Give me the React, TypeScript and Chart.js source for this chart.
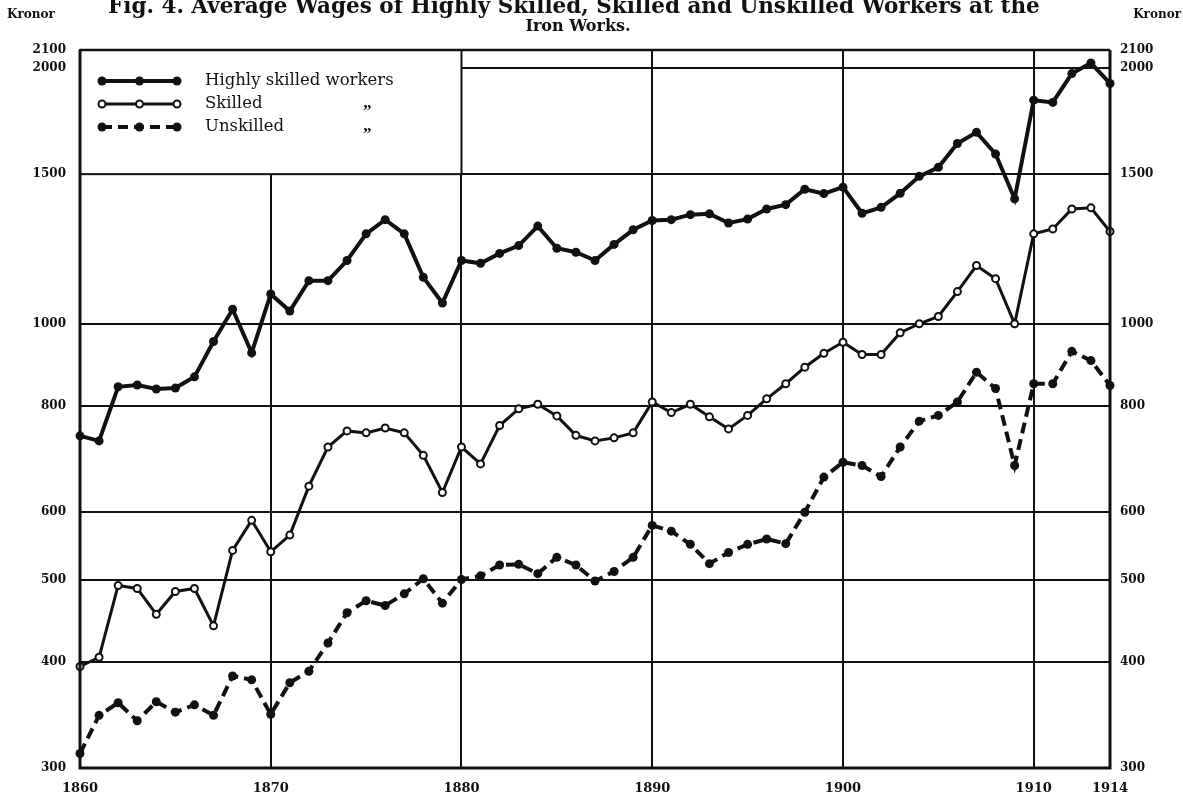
import React, { useEffect, useRef } from "react";
import { Chart, registerables } from "chart.js";

Chart.register(...registerables);

const years = [
  1860, 1861, 1862, 1863, 1864, 1865, 1866, 1867, 1868, 1869,
  1870, 1871, 1872, 1873, 1874, 1875, 1876, 1877, 1878, 1879,
  1880, 1881, 1882, 1883, 1884, 1885, 1886, 1887, 1888, 1889,
  1890, 1891, 1892, 1893, 1894, 1895, 1896, 1897, 1898, 1899,
  1900, 1901, 1902, 1903, 1904, 1905, 1906, 1907, 1908, 1909,
  1910, 1911, 1912, 1913, 1914,
];

const highlySkilled = [
  738, 728, 843, 847, 838, 840, 866, 953, 1040, 924,
  1084, 1035, 1124, 1124, 1187, 1276, 1326, 1276, 1134, 1058,
  1187, 1178, 1210, 1236, 1303, 1227, 1214, 1187, 1240, 1290,
  1323, 1326, 1344, 1347, 1314, 1328, 1365, 1381, 1440, 1423,
  1448, 1349, 1371, 1424, 1491, 1528, 1630, 1680, 1584, 1403,
  1833, 1822, 1970, 2027, 1918,
];

const skilled = [
  395, 405, 492, 488, 455, 484, 488, 441, 541, 587,
  539, 564, 644, 716, 748, 744, 754, 744, 700, 633,
  716, 684, 759, 794, 804, 779, 739, 728, 734, 744,
  809, 786, 804, 777, 752, 780, 816, 850, 889, 923,
  951, 920, 920, 976, 1000, 1020, 1091, 1171, 1130, 1000,
  1276, 1293, 1365, 1369, 1284,
];

const unskilled = [
  312, 346, 358, 341, 359, 349, 356, 346, 385, 381,
  347, 378, 390, 421, 457, 472, 466, 481, 501, 469,
  500, 505, 520, 521, 508, 531, 520, 498, 511, 531,
  579, 570, 550, 522, 538, 550, 558, 551, 600, 660,
  687, 681, 661, 716, 768, 780, 809, 877, 839, 681,
  850, 850, 928, 905, 846,
];

const yTickValues = [300, 400, 500, 600, 800, 1000, 1500, 2000, 2100];
const yTickLabels = ["300", "400", "500", "600", "800", "1000", "1500", "2000", "2100"];
const xTickValues = [1860, 1870, 1880, 1890, 1900, 1910, 1914];
const xTickLabels = ["1860", "1870", "1880", "1890", "1900", "1910", "1914"];
const hGridValues = [400, 500, 600, 800, 1000, 1500, 2000];
const vGridValues = [1870, 1880, 1890, 1900, 1910];
const legendLabels = ["Highly skilled workers", "Skilled", "Unskilled"];
const legendDitto = ["", "\u201D", "\u201D"];
const titleLine1 = "Fig. 4. Average Wages of Highly Skilled, Skilled and Unskilled Workers at the";
const titleLine2 = "Iron Works.";
const unitLabel = "Kronor";

const SERIF = "'Liberation Serif', 'DejaVu Serif', serif";
const WIDE_SERIF = "'DejaVu Serif', 'Liberation Serif', serif";
const INK = "#111";

const toPoints = (vals: number[]) => vals.map((v, i) => ({ x: years[i], y: v }));

const decorPlugin = {
  id: "decor",
  beforeDraw(chart: any) {
    const { ctx, width, height } = chart;
    ctx.save();
    ctx.fillStyle = "#fff";
    ctx.fillRect(0, 0, width, height);
    ctx.restore();
  },
  beforeDatasetsDraw(chart: any) {
    const { ctx, chartArea: a, scales } = chart;
    const x = scales.x;
    const y = scales.y;
    ctx.save();
    ctx.strokeStyle = INK;
    ctx.lineWidth = 2;
    hGridValues.forEach((v) => {
      const py = Math.round(y.getPixelForValue(v));
      ctx.beginPath();
      ctx.moveTo(a.left, py);
      ctx.lineTo(a.right, py);
      ctx.stroke();
    });
    vGridValues.forEach((v) => {
      const px = Math.round(x.getPixelForValue(v));
      ctx.beginPath();
      ctx.moveTo(px, a.top);
      ctx.lineTo(px, a.bottom);
      ctx.stroke();
    });
    // legend box (covers grid in its corner)
    const lx0 = x.getPixelForValue(1860);
    const lx1 = x.getPixelForValue(1880);
    const ly0 = y.getPixelForValue(2100);
    const ly1 = y.getPixelForValue(1500);
    ctx.fillStyle = "#fff";
    ctx.fillRect(lx0, ly0, lx1 - lx0, ly1 - ly0);
    ctx.strokeRect(lx0, ly0, lx1 - lx0, ly1 - ly0);
    ctx.restore();
  },
  afterDraw(chart: any) {
    const { ctx, chartArea: a, width } = chart;
    ctx.save();
    // frame
    ctx.strokeStyle = INK;
    ctx.lineWidth = 2.5;
    ctx.beginPath();
    ctx.moveTo(a.left, a.top);
    ctx.lineTo(a.right, a.top);
    ctx.stroke();
    ctx.lineWidth = 3;
    ctx.beginPath();
    ctx.moveTo(a.left, a.top);
    ctx.lineTo(a.left, a.bottom);
    ctx.lineTo(a.right, a.bottom);
    ctx.lineTo(a.right, a.top);
    ctx.stroke();

    // legend entries
    const rows = [81, 104, 127];
    const sx0 = a.left + 22;
    const sx1 = a.left + 97;
    rows.forEach((ry, i) => {
      ctx.strokeStyle = INK;
      ctx.lineWidth = i === 1 ? 3 : 4;
      ctx.setLineDash(i === 2 ? [10, 6] : []);
      ctx.beginPath();
      ctx.moveTo(sx0, ry);
      ctx.lineTo(sx1, ry);
      ctx.stroke();
      ctx.setLineDash([]);
      [sx0, (sx0 + sx1) / 2, sx1].forEach((cx) => {
        ctx.beginPath();
        if (i === 1) {
          ctx.arc(cx, ry, 3.5, 0, Math.PI * 2);
          ctx.fillStyle = "#fff";
          ctx.fill();
          ctx.lineWidth = 2;
          ctx.stroke();
        } else {
          ctx.arc(cx, ry, 4.5, 0, Math.PI * 2);
          ctx.fillStyle = INK;
          ctx.fill();
        }
      });
      ctx.fillStyle = INK;
      ctx.font = `16.5px ${WIDE_SERIF}`;
      ctx.textBaseline = "middle";
      ctx.textAlign = "left";
      ctx.fillText(legendLabels[i], a.left + 125, ry);
      if (legendDitto[i]) {
        ctx.font = `bold 17px ${SERIF}`;
        ctx.fillText(legendDitto[i], a.left + 283, ry + 8);
      }
    });

    // title: first line sized to span the printed width, top partly cut off
    ctx.fillStyle = INK;
    ctx.textAlign = "left";
    ctx.textBaseline = "alphabetic";
    ctx.font = `bold 17px ${WIDE_SERIF}`;
    const target = 932;
    const w = ctx.measureText(titleLine1).width;
    const size = Math.min(22, (17 * target) / w);
    ctx.font = `bold ${size.toFixed(2)}px ${WIDE_SERIF}`;
    ctx.fillText(titleLine1, 108, 13);
    ctx.textAlign = "center";
    ctx.font = `bold 16px ${WIDE_SERIF}`;
    ctx.fillText(titleLine2, 578, 31);

    // unit labels
    ctx.font = `bold 12px ${WIDE_SERIF}`;
    ctx.textAlign = "left";
    ctx.fillText(unitLabel, 7, 18);
    ctx.textAlign = "right";
    ctx.fillText(unitLabel, width - 2, 18);
    ctx.restore();
  },
};

const yTickFont = { family: WIDE_SERIF, size: 12, weight: "bold" as const };
const xTickFont = { family: WIDE_SERIF, size: 13, weight: "bold" as const };

export default function App() {
  const canvasRef = useRef<HTMLCanvasElement | null>(null);

  useEffect(() => {
    document.body.style.margin = "0";
    const canvas = canvasRef.current;
    if (!canvas) return;
    const yLabel = (v: any) => {
      const idx = yTickValues.indexOf(Number(v));
      return idx >= 0 ? yTickLabels[idx] : "";
    };
    const chart = new Chart(canvas, {
      type: "line",
      data: {
        datasets: [
          {
            label: legendLabels[0],
            data: toPoints(highlySkilled),
            borderColor: INK,
            borderWidth: 4,
            pointRadius: 4.5,
            pointBackgroundColor: INK,
            pointBorderColor: INK,
            pointBorderWidth: 0,
            tension: 0,
            clip: false,
          },
          {
            label: legendLabels[1],
            data: toPoints(skilled),
            borderColor: INK,
            borderWidth: 3,
            pointRadius: 3.5,
            pointBackgroundColor: "#fff",
            pointBorderColor: INK,
            pointBorderWidth: 2,
            tension: 0,
            clip: false,
          },
          {
            label: legendLabels[2],
            data: toPoints(unskilled),
            borderColor: INK,
            borderWidth: 4,
            borderDash: [11, 6],
            pointRadius: 4.5,
            pointBackgroundColor: INK,
            pointBorderColor: INK,
            pointBorderWidth: 0,
            tension: 0,
            clip: false,
          },
        ],
      },
      options: {
        responsive: false,
        animation: false,
        events: [],
        layout: { padding: { top: 50, left: 0, right: 0, bottom: 0 } },
        plugins: {
          legend: { display: false },
          title: { display: false },
          tooltip: { enabled: false },
        },
        scales: {
          x: {
            type: "linear",
            min: 1860,
            max: 1914,
            grid: { display: false, drawTicks: false },
            border: { display: false },
            afterBuildTicks: (s: any) => {
              s.ticks = xTickValues.map((v) => ({ value: v }));
            },
            afterFit: (s: any) => {
              s.height = 38;
            },
            ticks: {
              padding: 13,
              color: INK,
              font: xTickFont,
              autoSkip: false,
              maxRotation: 0,
              callback: (v: any) => {
                const idx = xTickValues.indexOf(Number(v));
                return idx >= 0 ? xTickLabels[idx] : "";
              },
            },
          },
          y: {
            type: "logarithmic",
            position: "left",
            min: 300,
            max: 2100,
            grid: { display: false, drawTicks: false },
            border: { display: false },
            afterBuildTicks: (s: any) => {
              s.ticks = yTickValues.map((v) => ({ value: v }));
            },
            afterFit: (s: any) => {
              s.width = 80;
            },
            ticks: {
              padding: 14,
              color: INK,
              font: yTickFont,
              autoSkip: false,
              callback: yLabel,
            },
          },
          y2: {
            type: "logarithmic",
            position: "right",
            min: 300,
            max: 2100,
            grid: { display: false, drawTicks: false },
            border: { display: false },
            afterBuildTicks: (s: any) => {
              s.ticks = yTickValues.map((v) => ({ value: v }));
            },
            afterFit: (s: any) => {
              s.width = 73;
            },
            ticks: {
              padding: 10,
              color: INK,
              font: yTickFont,
              autoSkip: false,
              callback: yLabel,
            },
          },
        },
      },
      plugins: [decorPlugin],
    });
    return () => chart.destroy();
  }, []);

  return (
    <div style={{ width: 1183, height: 806, background: "#fff" }}>
      <canvas ref={canvasRef} width={1183} height={806} style={{ display: "block" }} />
    </div>
  );
}
